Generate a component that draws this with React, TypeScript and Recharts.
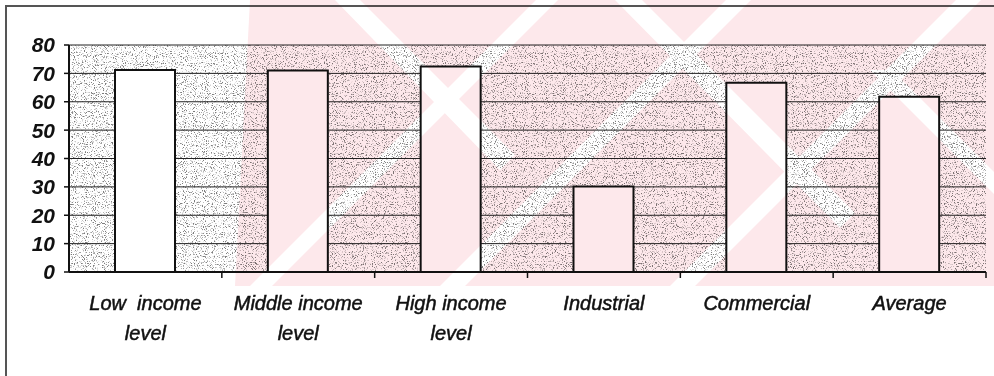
import React from "react";
import { BarChart, Bar, XAxis, YAxis, CartesianGrid } from "recharts";

// values (%)
const categories = [
  "Low income level",
  "Middle income level",
  "High income level",
  "Industrial",
  "Commercial",
  "Average",
];
const labelLines = [
  ["Low  income", "level"],
  ["Middle income", "level"],
  ["High income", "level"],
  ["Industrial"],
  ["Commercial"],
  ["Average"],
];
const values = [71.2, 71, 72.4, 30.1, 66.7, 61.8];
const yTicks = [0, 10, 20, 30, 40, 50, 60, 70, 80];

const data = categories.map((name, i) => ({ name, value: values[i] }));

const W = 994;
const H = 376;
const FONT = "'Liberation Sans', Arial, sans-serif";

// two-line italic category label + tick mark at the category boundary
const CategoryTick = (props: any) => {
  const { x, y, payload, index } = props;
  const lines = labelLines[index] || [payload.value];
  const band = (W - 69 - 8) / categories.length;
  return (
    <g>
      <line x1={x + band / 2} x2={x + band / 2} y1={y - 8} y2={y - 2} stroke="#111" strokeWidth={1.5} />
      <text
        x={x}
        y={y + 30}
        textAnchor="middle"
        fontFamily={FONT}
        fontStyle="italic"
        fontSize={20}
        fill="#111"
        stroke="#111"
        strokeWidth={0.5}
        style={{ whiteSpace: "pre" }}
      >
        {lines.map((l: string, i: number) => (
          <tspan key={i} x={x} dy={i === 0 ? 0 : 30}>
            {l}
          </tspan>
        ))}
      </text>
    </g>
  );
};

export default function App() {
  return (
    <div style={{ position: "absolute", left: 0, top: 0, width: W, height: H, background: "#fff", overflow: "hidden" }}>
      <svg width={0} height={0} style={{ position: "absolute" }}>
        <defs>
          <filter id="grain" x="0" y="0" width="100%" height="100%">
            <feTurbulence type="fractalNoise" baseFrequency="0.9" numOctaves={2} seed={7} />
            <feColorMatrix
              type="matrix"
              values="0 0 0 0 0.2  0 0 0 0 0.2  0 0 0 0 0.2  6 0 0 0 -3.3"
            />
          </filter>
          <pattern id="stipple" patternUnits="userSpaceOnUse" width={320} height={240}>
            <rect width={320} height={240} fill="#fff" />
            <rect width={320} height={240} filter="url(#grain)" />
          </pattern>
        </defs>
      </svg>

      {/* partial frame from the scan */}
      <div
        style={{
          position: "absolute",
          left: 5,
          top: 5,
          width: W - 5,
          height: H - 5,
          borderTop: "2px solid #555",
          borderLeft: "2px solid #555",
          boxSizing: "border-box",
        }}
      />

      <BarChart
        width={W}
        height={H}
        data={data}
        margin={{ top: 45, right: 8, left: 0, bottom: 0 }}
        barSize={60}
        style={{ position: "absolute", left: 0, top: 0 }}
      >
        <CartesianGrid
          vertical={false}
          stroke="#222"
          strokeWidth={1}
          fill="url(#stipple)"
          fillOpacity={1}
        />
        <XAxis
          dataKey="name"
          height={104}
          interval={0}
          axisLine={{ stroke: "#111", strokeWidth: 2 }}
          tickLine={false}
          tick={<CategoryTick />}
        />
        <YAxis
          width={69}
          domain={[0, 80]}
          ticks={yTicks}
          interval={0}
          axisLine={{ stroke: "#111", strokeWidth: 2 }}
          tickLine={{ stroke: "#111", strokeWidth: 1.5 }}
          tickSize={5}
          tickMargin={9}
          tick={{ fill: "#111", fontFamily: FONT, fontSize: 21, fontWeight: 700, fontStyle: "italic" }}
        />
        <YAxis
          yAxisId="frame"
          orientation="right"
          width={0}
          domain={[0, 80]}
          tick={false}
          tickLine={false}
          axisLine={{ stroke: "#111", strokeWidth: 2 }}
        />
        <Bar dataKey="value" fill="#fff" stroke="#111" strokeWidth={2} isAnimationActive={false} />
      </BarChart>

      {/* pink thesis watermark, multiplied over the chart */}
      <svg
        width={W}
        height={H}
        style={{ position: "absolute", left: 0, top: 0, mixBlendMode: "multiply", pointerEvents: "none" }}
      >
        <polygon points="250,0 994,0 994,286 235,286" fill="#fde8eb" />
        <polygon points="250,286 272,286 558,0 536,0" fill="#fff" />
        <polygon points="440,286 465,286 751,0 726,0" fill="#fff" />
        <polygon points="670,286 695,286 981,0 956,0" fill="#fff" />
        <polygon points="335,0 360,0 515,155 500,170" fill="#fff" />
        <polygon points="615,0 642,0 855,213 840,228" fill="#fff" />
        <polygon points="870,70 892,70 994,172 994,194" fill="#fff" />
      </svg>
    </div>
  );
}
